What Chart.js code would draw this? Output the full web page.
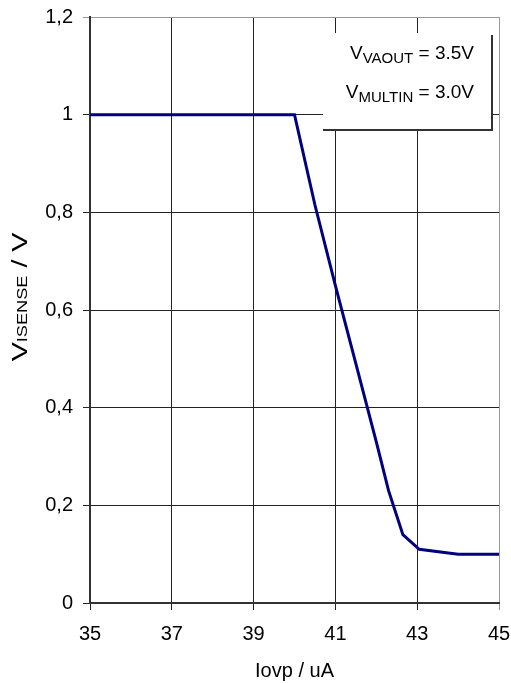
<!DOCTYPE html>
<html>
<head>
<meta charset="utf-8">
<script src="https://cdn.jsdelivr.net/npm/chart.js@4"></script>
<style>
  html, body { margin: 0; padding: 0; background: #fff; }
  #wrap { width: 511px; height: 683px; }
</style>
</head>
<body>
<div id="wrap"><canvas id="ovpChart" width="511" height="683"></canvas></div>
<script>
// Iovp (uA) vs Visense (V)
const iovp = [35, 40, 40.5, 41, 41.5, 42, 42.3, 42.65, 43.05, 44, 45];
const vSense = [1, 1, 0.815, 0.65, 0.49, 0.33, 0.23, 0.14, 0.11, 0.1, 0.1];
const yTickLabels = ['0', '0,2', '0,4', '0,6', '0,8', '1', '1,2'];
const noteLines = [
    ['V', 'VAOUT', ' = 3.5V'],
    ['V', 'MULTIN', ' = 3.0V']
];
const yTitle = ['V', 'ISENSE', ' / V'];

const FONT = '"Liberation Sans", Arial, sans-serif';

// подписи с нижними индексами + рамка с параметрами
const extrasPlugin = {
    id: 'extras',
    afterDraw(chart) {
        const ctx = chart.ctx;

        function drawSub(parts, x, y, align, big, small, shift) {
            ctx.font = big + 'px ' + FONT;
            const w0 = ctx.measureText(parts[0]).width;
            const w2 = ctx.measureText(parts[2]).width;
            ctx.font = small + 'px ' + FONT;
            const w1 = ctx.measureText(parts[1]).width;
            const total = w0 + w1 + w2;
            let sx = align === 'right' ? x - total : x - total / 2;
            ctx.textAlign = 'left';
            ctx.textBaseline = 'alphabetic';
            ctx.fillStyle = '#000';
            ctx.font = big + 'px ' + FONT;
            ctx.fillText(parts[0], sx, y);
            ctx.font = small + 'px ' + FONT;
            ctx.fillText(parts[1], sx + w0, y + shift);
            ctx.font = big + 'px ' + FONT;
            ctx.fillText(parts[2], sx + w0 + w1, y);
        }

        ctx.save();
        // рамка
        ctx.fillStyle = '#fff';
        ctx.fillRect(323, 33, 168, 96);
        ctx.strokeStyle = '#333';
        ctx.lineWidth = 2;
        ctx.beginPath();
        ctx.moveTo(492, 35);
        ctx.lineTo(492, 130);
        ctx.lineTo(323, 130);
        ctx.stroke();
        drawSub(noteLines[0], 474, 59, 'right', 19, 15, 4);
        drawSub(noteLines[1], 474, 98, 'right', 19, 15, 4);

        // заголовок оси Y (в оригинале растянут по длине)
        ctx.translate(27, 297);
        ctx.rotate(-Math.PI / 2);
        ctx.scale(1.3, 1);
        drawSub(yTitle, 0, 0, 'center', 22, 14, 0);
        ctx.restore();
    }
};

const gridColor = (c) => (c.tick && c.tick.value === c.scale.max) ? '#999' : '#222';

const ovpCtx = document.getElementById('ovpChart').getContext('2d');
const ovpChart = new Chart(ovpCtx, {
    type: 'scatter',
    data: {
        datasets: [{
            data: iovp.map((x, i) => ({ x: x, y: vSense[i] })),
            showLine: true,
            borderColor: '#000080',
            borderWidth: 3,
            pointRadius: 0,
            tension: 0
        }]
    },
    options: {
        responsive: false,
        animation: false,
        layout: {
            padding: { top: 17, right: 12, left: 0, bottom: 0 }
        },
        plugins: {
            legend: { display: false },
            tooltip: { enabled: false }
        },
        scales: {
            x: {
                min: 35,
                max: 45,
                afterFit: (s) => {
                    s.height = 80;
                    s.paddingLeft = 0;
                    s.paddingRight = 0;
                },
                ticks: {
                    stepSize: 2,
                    padding: 12,
                    color: '#000',
                    font: { family: FONT, size: 20 }
                },
                grid: {
                    color: gridColor,
                    lineWidth: 1,
                    tickLength: 7
                },
                border: { color: '#333', width: 2 },
                title: {
                    display: true,
                    text: 'Iovp / uA',
                    color: '#000',
                    font: { family: FONT, size: 20 },
                    padding: { top: 0, bottom: 0 }
                }
            },
            y: {
                min: 0,
                max: 1.2,
                afterFit: (s) => {
                    s.width = 90;
                    s.paddingTop = 0;
                    s.paddingBottom = 0;
                },
                ticks: {
                    stepSize: 0.2,
                    padding: 10,
                    color: '#000',
                    font: { family: FONT, size: 20 },
                    callback: (v, i) => yTickLabels[i]
                },
                grid: {
                    color: gridColor,
                    lineWidth: 1,
                    tickLength: 7
                },
                border: { color: '#333', width: 2 }
            }
        }
    },
    plugins: [extrasPlugin]
});
</script>
</body>
</html>
